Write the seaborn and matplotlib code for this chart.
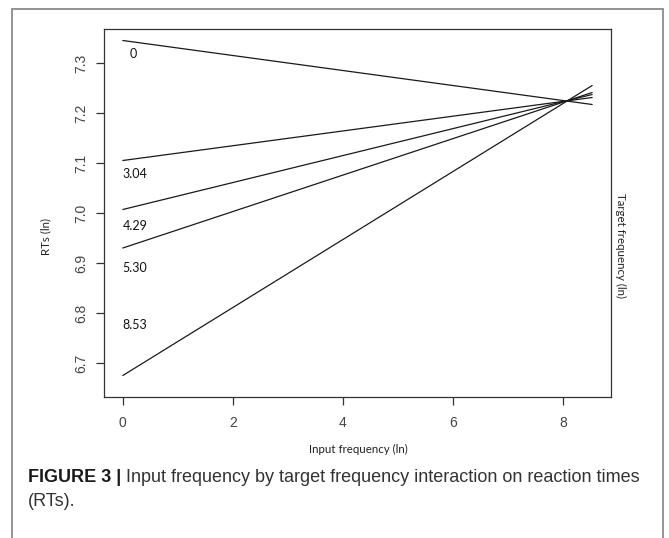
import matplotlib
matplotlib.use("Agg")
import matplotlib.pyplot as plt
import seaborn as sns
import pandas as pd
from matplotlib.patches import Rectangle

# ---- data ----
target_freq = ["0", "3.04", "4.29", "5.30", "8.53"]
input_freq = [0.0, 8.53]
rt_at_min_input = [7.345, 7.105, 7.007, 6.930, 6.675]
rt_at_max_input = [7.217, 7.231, 7.237, 7.241, 7.255]
label_rt = [7.318, 7.078, 6.974, 6.890, 6.776]
x_ticks = [0, 2, 4, 6, 8]
y_ticks = [6.7, 6.8, 6.9, 7.0, 7.1, 7.2, 7.3]

rows = []
for t, y0, y1 in zip(target_freq, rt_at_min_input, rt_at_max_input):
    rows.append({"Input": input_freq[0], "RT": y0, "Target": t})
    rows.append({"Input": input_freq[1], "RT": y1, "Target": t})
df = pd.DataFrame(rows)

sns.set_theme(style="ticks")
plt.rcParams["font.family"] = ["Liberation Sans", "DejaVu Sans"]

W, H = 669, 538
fig = plt.figure(figsize=(W / 100, H / 100), dpi=100)
ax = fig.add_axes([104 / W, 1 - 397 / H, (611 - 104) / W, (397 - 29) / H])

sns.lineplot(data=df, x="Input", y="RT", hue="Target", units="Target",
             estimator=None, palette=["#1a1a1a"] * len(target_freq),
             linewidth=0.9, legend=False, ax=ax)

lab_font = ["Lato", "DejaVu Sans"]
for t, ly in zip(target_freq, label_rt):
    ax.text(0.0 if t != "0" else 0.12, ly, t, ha="left", va="center",
            fontsize=9, family=lab_font, color="#111111")

ax.set_xlim(-0.342, 8.872)
ax.set_ylim(6.632, 7.368)
ax.set_xticks(x_ticks)
ax.set_xticklabels([str(v) for v in x_ticks])
ax.set_yticks(y_ticks)
ax.set_yticklabels([f"{v:.1f}" for v in y_ticks], rotation=90, va="center")
ax.tick_params(axis="both", direction="out", length=6, width=0.9,
               colors="#333333", labelsize=10, labelcolor="#444444")
ax.tick_params(axis="x", pad=8)
ax.tick_params(axis="y", pad=5)
for s in ax.spines.values():
    s.set_visible(True)
    s.set_color("#333333")
    s.set_linewidth(0.9)

ax.set_xlabel("")
ax.set_ylabel("")
fig.text(358 / W, 1 - 449 / H, "Input frequency (ln)",
         ha="center", va="center", fontsize=8.3, family=lab_font, color="#222222")
fig.text(46 / W, 1 - 236 / H, "RTs (ln)", ha="center", va="center",
         rotation=90, fontsize=8.3, family=lab_font, color="#222222")
fig.text(621 / W, 1 - 245 / H, "Target frequency (ln)", ha="center", va="center",
         rotation=270, fontsize=8.3, family=lab_font, color="#222222")

# outer frame
fig.patches.append(Rectangle((12 / W, -0.05), (663 - 12) / W, 1.05 - 9 / H,
                             transform=fig.transFigure, fill=False,
                             edgecolor="#8a8a8a", linewidth=1.3))

# caption
cap_color = "#333333"
t1 = fig.text(28 / W, 1 - 477 / H, "FIGURE 3 |", ha="left", va="center",
              fontsize=13, fontweight="bold", color="#1a1a1a")
fig.canvas.draw()
r = fig.canvas.get_renderer()
bb = t1.get_window_extent(renderer=r)
fig.text((bb.x1 + 5) / W, 1 - 477 / H,
         "Input frequency by target frequency interaction on reaction times",
         ha="left", va="center", fontsize=13, color=cap_color)
fig.text(28 / W, 1 - 502 / H, "(RTs).", ha="left", va="center",
         fontsize=13, color=cap_color)

fig.savefig("out.png", dpi=100)
